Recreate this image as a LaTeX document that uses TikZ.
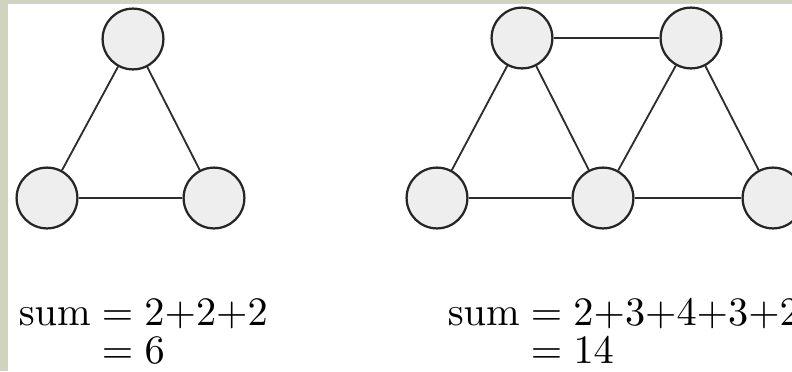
\documentclass[tikz,border=0pt]{standalone}
\usepackage{xcolor}
\usepackage{tikz}
\usetikzlibrary{positioning}
\definecolor{frame}{RGB}{208,212,190}
\definecolor{vert}{RGB}{238,238,238}
\definecolor{edgegray}{RGB}{45,45,45}

\begin{document}
\begin{tikzpicture}[
      x=0.025cm, y=-0.025cm,
      vtx/.style={circle, draw=black!85, line width=1.6pt, fill=vert, minimum size=1.52cm, inner sep=0pt},
      edg/.style={draw=edgegray, line width=1.3pt},
      sumtxt/.style={anchor=base west, inner sep=0pt, scale=2.87, transform shape}
    ]
      % background and frame
      \fill[frame] (0,0) rectangle (792,371);
      \fill[white] (8,4) rectangle (792,371);
      \clip (0,0) rectangle (792,371);
      % triangle
      \node[vtx] (t1) at (133, 39) {};
      \node[vtx] (t2) at (47, 198) {};
      \node[vtx] (t3) at (214, 198) {};
      \draw[edg] (t1) -- (t2);
      \draw[edg] (t1) -- (t3);
      \draw[edg] (t2) -- (t3);
      % two triangles
      \node[vtx] (a1) at (522, 38) {};
      \node[vtx] (a2) at (691, 38) {};
      \node[vtx] (b1) at (437, 198) {};
      \node[vtx] (b2) at (603, 198) {};
      \node[vtx] (b3) at (773, 198) {};
      \draw[edg] (a1) -- (a2);
      \draw[edg] (a1) -- (b1);
      \draw[edg] (a1) -- (b2);
      \draw[edg] (a2) -- (b2);
      \draw[edg] (a2) -- (b3);
      \draw[edg] (b1) -- (b2);
      \draw[edg] (b2) -- (b3);
      % sums
      \node[sumtxt] (s1) at (18, 325) {$\mathrm{sum} = 2{+}2{+}2$};
      \node[sumtxt] (r1) at (18, 363) {$\phantom{\mathrm{sum}} = 6$};
      \node[sumtxt] (s2) at (447, 325) {$\mathrm{sum} = 2{+}3{+}4{+}3{+}2$};
      \node[sumtxt] (r2) at (447, 363) {$\phantom{\mathrm{sum}} = 14$};
    \end{tikzpicture}
\end{document}
